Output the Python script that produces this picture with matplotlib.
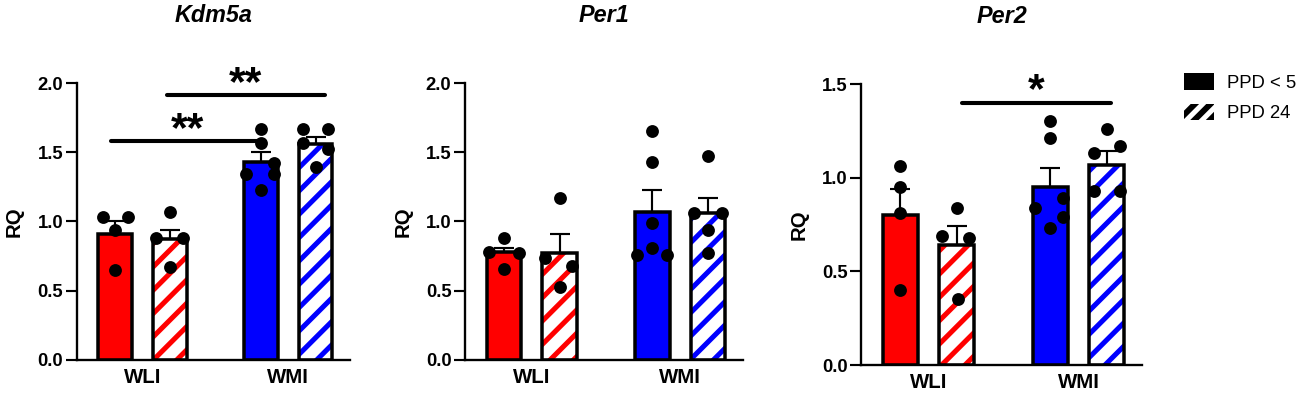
import numpy as np
import matplotlib
matplotlib.use("Agg")
import matplotlib.pyplot as plt
from matplotlib.patches import Patch

plt.rcParams['font.family'] = ['Liberation Sans', 'DejaVu Sans']
plt.rcParams['hatch.linewidth'] = 2.6

# groups / conditions
genes = ["Kdm5a", "Per1", "Per2"]
strains = ["WLI", "WMI"]
legend_labels = ["PPD < 5", "PPD 24"]

# bar means (order: WLI PPD<5, WLI PPD24, WMI PPD<5, WMI PPD24)
kdm5a_mean = [0.91, 0.87, 1.43, 1.56]
per1_mean = [0.78, 0.77, 1.07, 1.06]
per2_mean = [0.80, 0.64, 0.95, 1.07]

# SEM (upper error only)
kdm5a_sem = [0.09, 0.07, 0.07, 0.05]
per1_sem = [0.03, 0.14, 0.16, 0.11]
per2_sem = [0.14, 0.10, 0.10, 0.07]

# individual animals
kdm5a_pts = [[1.03, 1.03, 0.94, 0.65],
             [1.07, 0.88, 0.88, 0.67],
             [1.67, 1.57, 1.42, 1.34, 1.34, 1.23],
             [1.67, 1.67, 1.57, 1.52, 1.39]]
per1_pts = [[0.88, 0.78, 0.77, 0.66],
            [1.17, 0.74, 0.68, 0.53],
            [1.65, 1.43, 0.99, 0.81, 0.76, 0.76],
            [1.47, 1.06, 1.06, 0.94, 0.77]]
per2_pts = [[1.06, 0.95, 0.81, 0.40],
            [0.84, 0.69, 0.68, 0.35],
            [1.30, 1.21, 0.89, 0.84, 0.79, 0.73],
            [1.26, 1.17, 1.13, 0.93, 0.93]]

# significance bars: (x start, x end, y, label)
kdm5a_sig = [(-0.07, 2.71, 1.58, "**"), (0.95, 3.84, 1.91, "**")]
per1_sig = []
per2_sig = [(1.1, 3.75, 1.40, "*")]

y_max = [2.0, 2.0, 1.5]

# horizontal spread of dots inside a bar (layout only)
kdm5a_jit = [[-0.22, 0.24, 0, 0], [0, -0.25, 0.24, 0],
             [0, 0, 0.24, -0.27, 0.24, 0], [-0.23, 0.23, -0.23, 0.23, 0]]
per1_jit = [[0, -0.27, 0.27, 0], [0, -0.27, 0.23, 0],
            [0, 0, 0, 0, -0.27, 0.27], [0, -0.25, 0.25, 0, 0]]
per2_jit = [[0, 0, 0, 0], [0, -0.25, 0.23, 0.02],
            [0, 0, 0.22, -0.27, 0.22, 0], [0, 0.23, -0.23, -0.23, 0.23]]

means = [kdm5a_mean, per1_mean, per2_mean]
sems = [kdm5a_sem, per1_sem, per2_sem]
pts = [kdm5a_pts, per1_pts, per2_pts]
sigs = [kdm5a_sig, per1_sig, per2_sig]
jits = [kdm5a_jit, per1_jit, per2_jit]

pos = np.array([0, 1, 2.67, 3.67])
colors = ["#ff0000", "#ff0000", "#0000ff", "#0000ff"]
hatched = [False, True, False, True]
width = 0.62

fig = plt.figure(figsize=(1300 / 140, 393 / 140), dpi=140)
rects = [[0.0592, 0.0840, 0.2100, 0.7048],
         [0.3577, 0.0840, 0.2138, 0.7048],
         [0.6623, 0.0712, 0.2162, 0.7150]]

for k in range(3):
    ax = fig.add_axes(rects[k])
    for i in range(4):
        if hatched[i]:
            ax.bar(pos[i], means[k][i], width, color="white",
                   edgecolor=colors[i], hatch="//", linewidth=0, zorder=2)
        else:
            ax.bar(pos[i], means[k][i], width, color=colors[i],
                   linewidth=0, zorder=2)
        ax.bar(pos[i], means[k][i], width, fill=False, edgecolor="black",
               linewidth=1.8, zorder=3)
    ax.errorbar(pos, means[k], yerr=[np.zeros(4), sems[k]], fmt="none",
                ecolor="black", elinewidth=1.1, capsize=5, capthick=1.1,
                zorder=2.5)
    for i in range(4):
        xs = pos[i] + np.array(jits[k][i])
        ax.plot(xs, pts[k][i], "o", color="black", ms=5.6,
                clip_on=False, zorder=5)
    for x1, x2, y, lab in sigs[k]:
        ax.plot([x1, x2], [y, y], color="black", lw=2.1,
                solid_capstyle="round", clip_on=False)
        ax.annotate(lab, xy=((x1 + x2) / 2, y), xytext=(0, 0.2),
                    textcoords="offset points", ha="center", va="baseline",
                    fontsize=22, fontweight="bold", annotation_clip=False)

    ax.set_xlim(-0.7, 4.3)
    ax.set_ylim(0, y_max[k])
    ax.set_yticks(np.arange(0, y_max[k] + 0.01, 0.5))
    ax.set_yticklabels(["%.1f" % v for v in np.arange(0, y_max[k] + 0.01, 0.5)])
    ax.set_xticks([(pos[0] + pos[1]) / 2, (pos[2] + pos[3]) / 2])
    ax.set_xticklabels(strains)
    for lab in ax.get_yticklabels() + ax.get_xticklabels():
        lab.set_fontweight("bold")
    ax.tick_params(axis="y", length=5.5, width=1.1, pad=1.5, labelsize=9.5)
    ax.tick_params(axis="x", length=0, pad=4, labelsize=10.5)
    ax.spines["top"].set_visible(False)
    ax.spines["right"].set_visible(False)
    ax.spines["left"].set_linewidth(1.2)
    ax.spines["bottom"].set_linewidth(1.2)
    ax.set_ylabel("RQ", fontsize=10.5, fontweight="bold", labelpad=7)
    ax.set_title(genes[k], fontsize=12, fontweight="bold", style="italic",
                 pad=31.5)

handles = [Patch(facecolor="black", edgecolor="black", linewidth=0),
           Patch(facecolor="black", edgecolor="white", hatch="///",
                 linewidth=0)]
if hasattr(handles[1], "set_hatch_linewidth"):
    handles[1].set_hatch_linewidth(1.0)
fig.legend(handles, legend_labels, loc="upper left",
           bbox_to_anchor=(1184 / 1300, 1 - 73 / 393), frameon=False,
           fontsize=9.5, handlelength=1.6, handleheight=1.0,
           handletextpad=0.75, labelspacing=0.65, borderpad=0,
           borderaxespad=0)

fig.savefig("out.png", dpi=140, facecolor="white")
